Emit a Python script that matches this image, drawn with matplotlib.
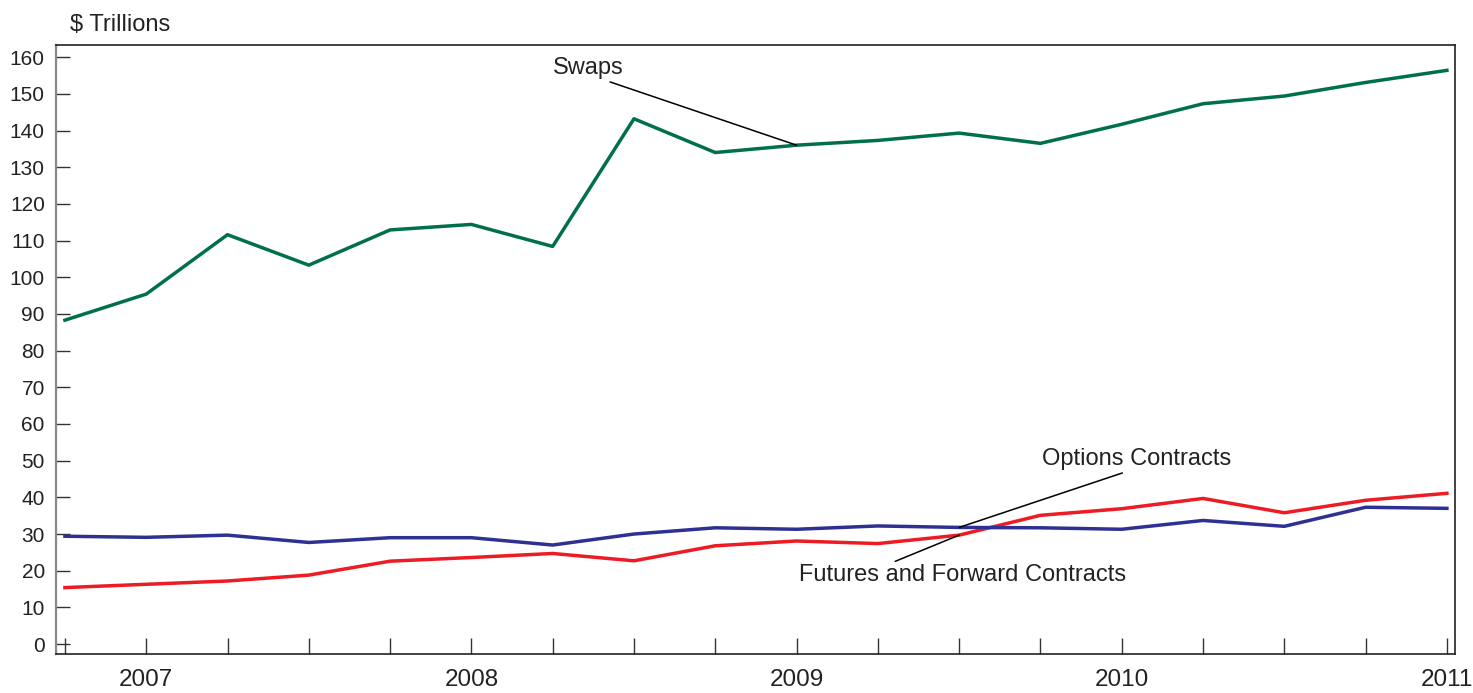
import matplotlib.pyplot as plt
import matplotlib.ticker as ticker

plt.rcParams["font.family"] = ["Liberation Sans", "DejaVu Sans"]

# quarterly, 2006 Q4 .. 2011 Q1 ($ trillions)
quarters = ["2006Q4",
            "2007Q1", "2007Q2", "2007Q3", "2007Q4",
            "2008Q1", "2008Q2", "2008Q3", "2008Q4",
            "2009Q1", "2009Q2", "2009Q3", "2009Q4",
            "2010Q1", "2010Q2", "2010Q3", "2010Q4",
            "2011Q1"]
swaps = [88.3, 95.4, 111.6, 103.3, 112.9, 114.4, 108.4, 143.2, 134.0,
         136.0, 137.3, 139.3, 136.5, 141.7, 147.3, 149.4, 153.1, 156.4]
options = [29.4, 29.1, 29.7, 27.7, 29.0, 29.0, 27.0, 30.0, 31.7,
           31.3, 32.2, 31.8, 31.7, 31.3, 33.7, 32.1, 37.3, 37.0]
futures = [15.4, 16.3, 17.2, 18.8, 22.6, 23.6, 24.7, 22.7, 26.8,
           28.1, 27.4, 29.7, 35.1, 36.9, 39.7, 35.8, 39.2, 41.1]
y_ticks = list(range(0, 161, 10))

GREEN = "#00704a"
BLUE = "#2e3192"
RED = "#ed1c24"

fig = plt.figure(figsize=(14.73, 6.93), dpi=100)
ax = fig.add_axes([0.038, 0.0563, 0.9498, 0.8787])

x = list(range(len(quarters)))
ax.plot(x, swaps, color=GREEN, linewidth=2.5)
ax.plot(x, futures, color=RED, linewidth=2.5)
ax.plot(x, options, color=BLUE, linewidth=2.5)

ax.set_xlim(-0.11, 17.1)
ax.set_ylim(-2.7, 163.3)

# ticks: every quarter on x, labels on Q1 only
ax.yaxis.set_major_locator(ticker.FixedLocator(y_ticks))
ax.set_xticks(x)
ax.set_xticklabels([q[:4] if q.endswith("Q1") else "" for q in quarters])
ax.tick_params(axis="y", direction="in", length=10, width=1, color="#333333",
               labelsize=15, pad=8, labelcolor="#222222")
ax.tick_params(axis="x", direction="in", length=11.5, width=1, color="#333333",
               labelsize=17.5, pad=10.5, labelcolor="#222222")

for side in ["top", "right", "bottom"]:
    ax.spines[side].set_color("#222222")
    ax.spines[side].set_linewidth(1.2)
ax.spines["left"].set_color("#888888")
ax.spines["left"].set_linewidth(1.6)

# series labels with leader lines
txt = dict(fontsize=17, color="#222222")
line = dict(arrowstyle="-", color="black", lw=1.1, shrinkA=0, shrinkB=0)
ax.annotate("Swaps", xy=(9, swaps[9]), xytext=(6.44, 157.0),
            ha="center", va="center", **txt,
            arrowprops=dict(line, relpos=(0.69, 0.0)))
ax.annotate("Options Contracts", xy=(11, options[11]), xytext=(13.18, 50.4),
            ha="center", va="center", **txt,
            arrowprops=dict(line, relpos=(0.47, 0.0)))
ax.annotate("Futures and Forward Contracts", xy=(11, futures[11]), xytext=(11.04, 18.8),
            ha="center", va="center", **txt,
            arrowprops=dict(line, relpos=(0.274, 1.0)))

fig.text(70 / 1473, 1 - 25 / 693, "$ Trillions", ha="left", va="center",
         fontsize=17, color="#222222")

fig.savefig("out.png", dpi=100)
